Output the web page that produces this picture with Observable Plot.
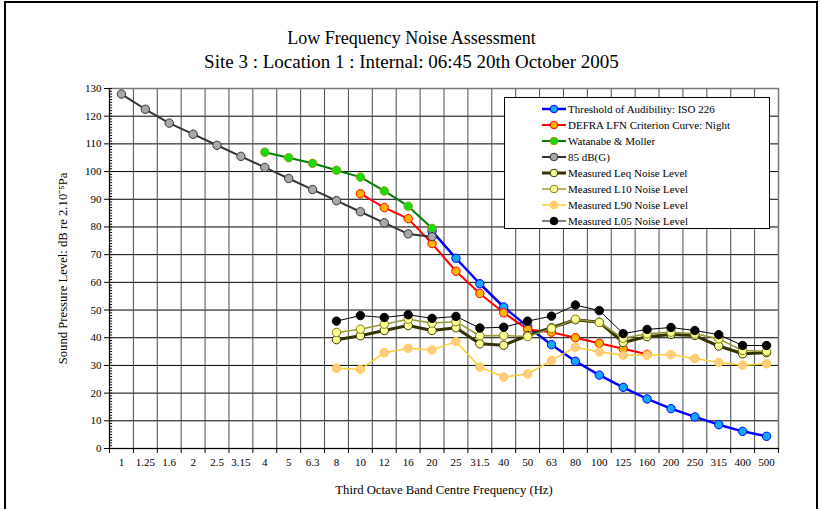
<!DOCTYPE html>
<html><head><meta charset="utf-8">
<script src="https://cdn.jsdelivr.net/npm/d3@7"></script>
<script src="https://cdn.jsdelivr.net/npm/@observablehq/plot@0.6"></script>
<style>
body{margin:0;background:#fff;font-family:"Liberation Serif","Times New Roman",serif;}
#wrap{position:relative;width:823px;height:509px;overflow:hidden;background:#fff;}
#border{position:absolute;left:4px;top:1px;width:810px;height:540px;border:2px solid #000;border-bottom:none;pointer-events:none;}
.title{position:absolute;left:0;width:823px;text-align:center;font-size:19px;line-height:22px;color:#000;}
#chart{position:absolute;left:0;top:0;}
#legend{position:absolute;left:504px;top:97px;width:264px;height:130px;background:#fff;border:1px solid #000;}
.row{position:absolute;left:0;height:16px;width:264px;font-size:11px;line-height:16px;white-space:nowrap;}
.row svg{position:absolute;left:36px;top:2px;}
.row span{position:absolute;left:63px;top:0;}
</style></head>
<body>
<div id="wrap">
  <div class="title" style="top:27px;font-size:18px">Low Frequency Noise Assessment</div>
  <div class="title" style="top:51px">Site 3 : Location 1 : Internal: 06:45 20th October 2005</div>
  <div id="chart"></div>
  <div id="legend"></div>
  <div id="border"></div>
</div>
<script>
// ---- data ----
const freqLabels = ["1","1.25","1.6","2","2.5","3.15","4","5","6.3","8","10","12","16","20","25","31.5","40","50","63","80","100","125","160","200","250","315","400","500"];
const yTicks = [0,10,20,30,40,50,60,70,80,90,100,110,120,130];

const isoStart = "20";
const isoValues = [78.5,68.7,59.5,51.1,44.0,37.5,31.5,26.5,22.1,17.9,14.4,11.4,8.6,6.2,4.4];
const defraStart = "10";
const defraValues = [92,87,83,74,64,56,49,43,42,40,38,36,34];
const watanabeStart = "4";
const watanabeValues = [107,105,103,100.5,98,93,87.5,79.5];
const g85Start = "1";
const g85Values = [128,122.5,117.5,113.5,109.5,105.5,101.5,97.5,93.5,89.5,85.5,81.5,77.5,76.5];
const measStart = "8";
const leqValues = [39.3,40.7,42.6,44.4,42.6,43.6,37.8,37.3,40.8,43.6,46.5,45.6,38.3,40.4,41.2,40.8,37.0,34.2,34.6];
const l10Values = [41.9,43.1,44.9,46.7,45.3,45.8,40.7,40.8,40.4,43.3,46.7,45.5,39.8,41.4,42.0,41.4,39.6,35.4,35.1];
const l90Values = [29.0,28.6,34.6,36.2,35.6,38.6,29.4,25.8,26.9,31.8,36.6,34.9,33.7,33.7,33.9,32.5,31.1,30.1,30.6];
const l05Values = [46.0,48.0,47.3,48.3,47.0,47.7,43.5,43.8,46.0,47.8,51.8,49.8,41.5,43.0,43.7,42.6,41.1,37.2,37.2];

const seriesDefs = [
  {name:"Threshold of Audibility: ISO 226", start:isoStart, values:isoValues, line:"#0000FF", lw:2.5, fill:"#12A8FF", ms:"#0000FF"},
  {name:"DEFRA LFN Criterion Curve: Night", start:defraStart, values:defraValues, line:"#FF0000", lw:2, fill:"#FFB400", ms:"#FF0000"},
  {name:"Watanabe & Moller", start:watanabeStart, values:watanabeValues, line:"#008000", lw:2, fill:"#11DD11", ms:"#999900"},
  {name:"85 dB(G)", start:g85Start, values:g85Values, line:"#333333", lw:2, fill:"#A8A8A8", ms:"#333333"},
  {name:"Measured Leq Noise Level", start:measStart, values:leqValues, line:"#333300", lw:3, fill:"#FFFF99", ms:"#333300"},
  {name:"Measured L10 Noise Level", start:measStart, values:l10Values, line:"#999933", lw:1.5, fill:"#FFFF99", ms:"#808000"},
  {name:"Measured L90 Noise Level", start:measStart, values:l90Values, line:"#FFCC33", lw:1.5, fill:"#FFCC88", ms:"#FFCC33"},
  {name:"Measured L05 Noise Level", start:measStart, values:l05Values, line:"#000000", lw:1, fill:"#000000", ms:"#000000"}
];

const n = freqLabels.length;
const boundaries = d3.range(0.5, n - 0.5, 1);
const edges = d3.range(-0.5, n, 1);
const minor = d3.range(0, 131, 1);

const seriesMarks = [];
for (const s of seriesDefs) {
  const i0 = freqLabels.indexOf(s.start);
  const rows = s.values.map((v, k) => ({i: i0 + k, v}));
  seriesMarks.push(Plot.line(rows, {x:"i", y:"v", stroke:s.line, strokeWidth:s.lw}));
  seriesMarks.push(Plot.dot(rows, {x:"i", y:"v", r:4.2, fill:s.fill, stroke:s.ms, strokeWidth:1}));
}

const chart = Plot.plot({
  width: 823, height: 509,
  marginTop: 88, marginBottom: 61, marginLeft: 109, marginRight: 45,
  x: {type:"linear", domain:[-0.5, n - 0.5], axis:null},
  y: {domain:[0,130], axis:null},
  style: {fontFamily:"'Liberation Serif','Times New Roman',serif", fontSize:"11px", background:"transparent", overflow:"visible", color:"#000"},
  marks: [
    Plot.gridY(yTicks, {stroke:"#000", strokeOpacity:1, strokeWidth:1}),
    Plot.ruleX(boundaries, {stroke:"#4a4a4a", strokeWidth:1}),
    Plot.frame({stroke:"#777", strokeWidth:1.5}),
    Plot.ruleY(minor, {x1:-0.5, x2:-0.37, stroke:"#000", strokeWidth:1}),
    Plot.ruleX([-0.5], {stroke:"#000", strokeWidth:1}),
    Plot.ruleY([0], {stroke:"#000", strokeWidth:1}),
    Plot.axisY({ticks:yTicks, tickSize:5, tickPadding:3, label:null, fontSize:11}),
    Plot.axisX({ticks:d3.range(n), tickSize:0, tickPadding:10, tickFormat:(i) => freqLabels[i], label:null, fontSize:11}),
    Plot.axisX({ticks:edges, tickSize:5, tickFormat:() => "", label:null}),
    Plot.text(["Third Octave Band Centre Frequency (Hz)"], {frameAnchor:"bottom", dy:41, fontSize:12.7, fill:"#000", textAnchor:"middle", lineAnchor:"middle"}),
    Plot.text(["Sound Pressure Level: dB re 2.10\u207B\u2075Pa"], {frameAnchor:"left", dx:-47, rotate:-90, fontSize:12.7, fill:"#000", textAnchor:"middle", lineAnchor:"middle"}),
    ...seriesMarks
  ]
});
document.getElementById("chart").appendChild(chart);

// legend
const legend = document.getElementById("legend");
seriesDefs.forEach((s, k) => {
  const row = document.createElement("div");
  row.className = "row";
  row.style.top = (3 + k * 16.05) + "px";
  const ns = "http://www.w3.org/2000/svg";
  const svg = document.createElementNS(ns, "svg");
  svg.setAttribute("width", 26); svg.setAttribute("height", 12);
  const ln = document.createElementNS(ns, "line");
  ln.setAttribute("x1", 1); ln.setAttribute("x2", 25); ln.setAttribute("y1", 6); ln.setAttribute("y2", 6);
  ln.setAttribute("stroke", s.line); ln.setAttribute("stroke-width", s.lw);
  const c = document.createElementNS(ns, "circle");
  c.setAttribute("cx", 13); c.setAttribute("cy", 6); c.setAttribute("r", 3.8);
  c.setAttribute("fill", s.fill); c.setAttribute("stroke", s.ms);
  svg.appendChild(ln); svg.appendChild(c);
  const t = document.createElement("span");
  t.textContent = s.name;
  row.appendChild(svg); row.appendChild(t);
  legend.appendChild(row);
});
</script>
</body></html>
